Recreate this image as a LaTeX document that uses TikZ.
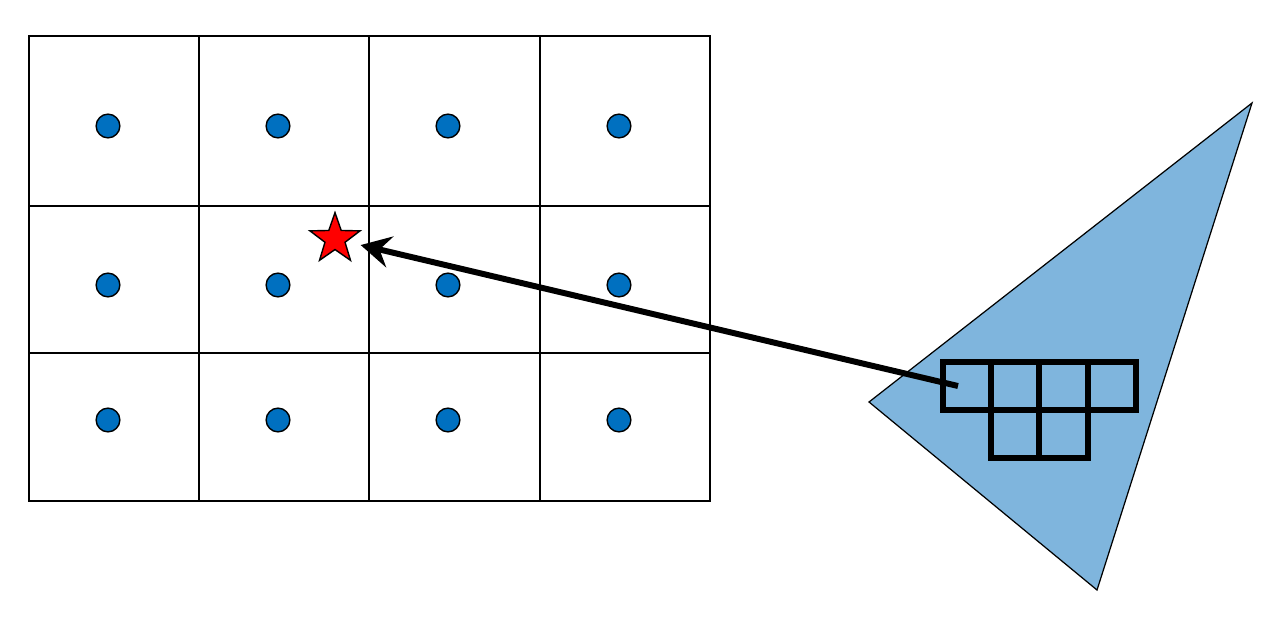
\documentclass[tikz,border=0pt]{standalone}
\usepackage{tikz}
\usetikzlibrary{arrows.meta, shapes.geometric}
\definecolor{dotblue}{RGB}{0,112,192}
\definecolor{triblue}{RGB}{127,181,221}

\begin{document}
\begin{tikzpicture}[x=0.02cm, y=-0.02cm,
  cell/.style={line width=1.3pt},
  sample/.style={circle, draw=black, fill=dotblue, line width=0.8pt, minimum size=13.5pt, inner sep=0pt},
  target/.style={star, star points=5, star point ratio=2.5, draw=black, fill=red, line width=0.8pt, minimum size=30pt, inner sep=0pt},
  patch/.style={line width=3.2pt}]
\useasboundingbox (0,0) rectangle (1273,621);
% coarse grid
\draw[cell] (29,36) rectangle (710,501);
\draw[cell] (199,36) -- (199,501);
\draw[cell] (369,36) -- (369,501);
\draw[cell] (540,36) -- (540,501);
\draw[cell] (29,206) -- (710,206);
\draw[cell] (29,353) -- (710,353);
% sample points
\node[sample] (s11) at (108,126) {};
\node[sample] (s12) at (278,126) {};
\node[sample] (s13) at (448,126) {};
\node[sample] (s14) at (619,126) {};
\node[sample] (s21) at (108,285) {};
\node[sample] (s22) at (278,285) {};
\node[sample] (s23) at (448,285) {};
\node[sample] (s24) at (619,285) {};
\node[sample] (s31) at (108,420) {};
\node[sample] (s32) at (278,420) {};
\node[sample] (s33) at (448,420) {};
\node[sample] (s34) at (619,420) {};
\node[target] (star) at (335,239) {};
% triangle with patch
\draw[fill=triblue, line width=0.7pt] (869,402) -- (1252,103) -- (1097,590) -- cycle;
\draw[patch] (943,362) rectangle (1136,410);
\draw[patch] (991,410) rectangle (1088,458);
\draw[patch] (991,362) -- (991,410);
\draw[patch] (1039,362) -- (1039,458);
\draw[patch] (1088,362) -- (1088,410);
\coordinate (src) at (958,386);
\draw[line width=3.4pt, shorten >=15pt, -{Stealth[length=17pt, width=18pt, inset=6pt]}] (src) -- (star.center);
\end{tikzpicture}
\end{document}
